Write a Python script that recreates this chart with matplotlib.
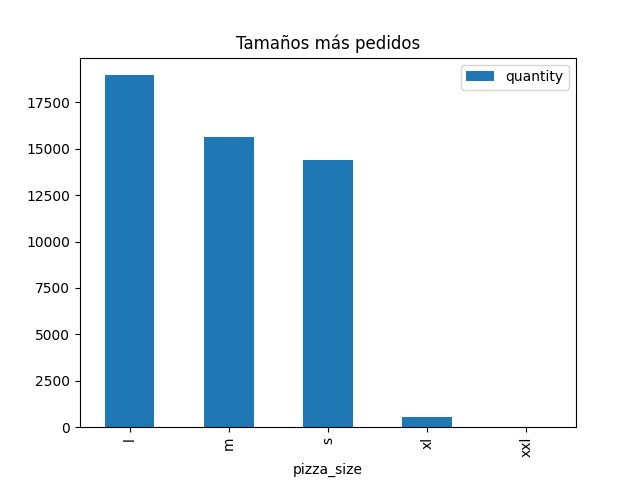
import pandas as pd
import matplotlib
matplotlib.use('Agg')
import matplotlib.pyplot as plt

# Quantity sold per pizza size
sizes = ['l', 'm', 's', 'xl', 'xxl']
quantity = [18956, 15635, 14403, 552, 28]

df = pd.DataFrame({'quantity': quantity}, index=pd.Index(sizes, name='pizza_size'))

ax = df.plot(kind='bar', figsize=(6.4, 4.8))
ax.set_title('Tamaños más pedidos')

plt.savefig('out.png', dpi=100)
